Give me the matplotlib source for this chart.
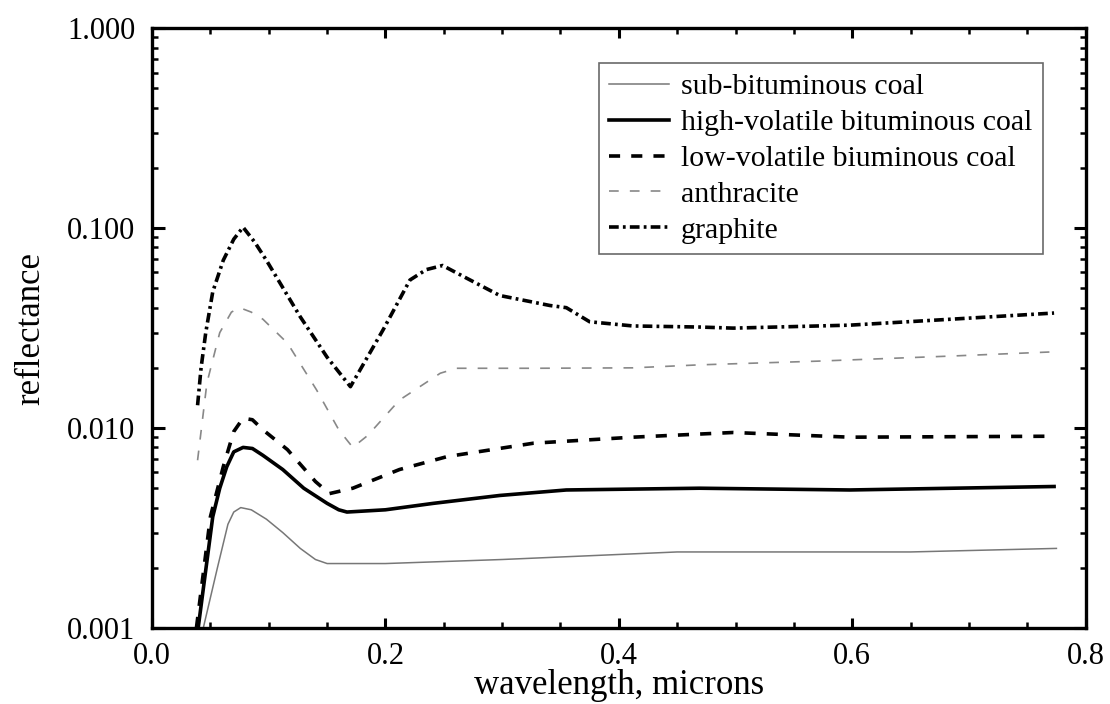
import matplotlib
matplotlib.use("Agg")
import matplotlib.pyplot as plt
from matplotlib.ticker import MultipleLocator, FixedLocator, LogLocator, NullFormatter

plt.rcParams['font.family'] = 'Liberation Serif'
plt.rcParams['lines.scale_dashes'] = False

# data (wavelength in microns, reflectance)
sub_x = [0.043, 0.056, 0.065, 0.070, 0.076, 0.085, 0.098, 0.112, 0.127, 0.140, 0.150, 0.200, 0.300, 0.450, 0.650, 0.775]
sub_y = [0.00095, 0.002, 0.0033, 0.0038, 0.004, 0.0039, 0.0035, 0.003, 0.0025, 0.0022, 0.0021, 0.0021, 0.0022, 0.0024, 0.0024, 0.0025]

hv_x = [0.039, 0.052, 0.058, 0.064, 0.070, 0.078, 0.086, 0.095, 0.112, 0.130, 0.150, 0.160, 0.167, 0.200, 0.241, 0.298, 0.355, 0.469, 0.598, 0.773]
hv_y = [0.00095, 0.0036, 0.005, 0.0064, 0.0076, 0.008, 0.0079, 0.0073, 0.0062, 0.005, 0.0042, 0.0039, 0.0038, 0.0039, 0.0042, 0.0046, 0.0049, 0.005, 0.0049, 0.0051]

lv_x = [0.038, 0.050, 0.061, 0.070, 0.078, 0.086, 0.095, 0.116, 0.140, 0.152, 0.172, 0.212, 0.253, 0.327, 0.412, 0.498, 0.598, 0.773]
lv_y = [0.001, 0.0036, 0.0064, 0.0096, 0.0112, 0.011, 0.0098, 0.0078, 0.0054, 0.0047, 0.005, 0.0062, 0.0072, 0.0084, 0.009, 0.0095, 0.009, 0.0091]

anth_x = [0.039, 0.047, 0.058, 0.068, 0.075, 0.085, 0.095, 0.116, 0.141, 0.160, 0.172, 0.185, 0.212, 0.247, 0.261, 0.327, 0.412, 0.469, 0.57, 0.684, 0.769]
anth_y = [0.0069, 0.0168, 0.030, 0.038, 0.040, 0.038, 0.035, 0.0266, 0.0155, 0.0098, 0.008, 0.0092, 0.0138, 0.0188, 0.0199, 0.0199, 0.020, 0.0207, 0.0216, 0.0229, 0.024]

gr_x = [0.039, 0.042, 0.046, 0.052, 0.061, 0.070, 0.078, 0.088, 0.098, 0.127, 0.150, 0.170, 0.198, 0.221, 0.235, 0.249,
        0.270, 0.298, 0.341, 0.355, 0.375, 0.412, 0.469, 0.498, 0.598, 0.684, 0.773]
gr_y = [0.013, 0.02, 0.03, 0.048, 0.069, 0.088, 0.101, 0.085, 0.069, 0.036, 0.0226, 0.0161, 0.031, 0.055, 0.062, 0.065,
        0.056, 0.046, 0.041, 0.040, 0.034, 0.0324, 0.032, 0.0316, 0.0327, 0.035, 0.0376]

ytick_vals = [0.001, 0.01, 0.1, 1.0]
ytick_labels = ['0.001', '0.010', '0.100', '1.000']
xtick_vals = [0.0, 0.2, 0.4, 0.6, 0.8]
xtick_labels = ['0.0', '0.2', '0.4', '0.6', '0.8']

fig = plt.figure(figsize=(11.1, 7.04), dpi=100)
ax = fig.add_axes([0.137, 0.108, 0.841, 0.852])

ax.plot(sub_x, sub_y, color='#777777', lw=1.1, label='sub-bituminous coal')
ax.plot(hv_x, hv_y, color='black', lw=2.6, label='high-volatile bituminous coal')
ax.plot(lv_x, lv_y, color='black', lw=2.6, linestyle=(0, (8, 8)), label='low-volatile biuminous coal')
ax.plot(anth_x, anth_y, color='#888888', lw=1.2, linestyle=(0, (7, 8)), label='anthracite')
ax.plot(gr_x, gr_y, color='black', lw=2.6, linestyle=(0, (7, 3, 2, 3)), label='graphite')

ax.set_yscale('log')
ax.set_xlim(0.0, 0.8)
ax.set_ylim(0.001, 1.0)
ax.yaxis.set_major_locator(FixedLocator(ytick_vals))
ax.set_yticklabels(ytick_labels)
ax.yaxis.set_minor_locator(LogLocator(base=10, subs=range(2, 10)))
ax.yaxis.set_minor_formatter(NullFormatter())
ax.set_xticks(xtick_vals)
ax.set_xticklabels(xtick_labels)
ax.xaxis.set_minor_locator(MultipleLocator(0.05))

ax.tick_params(which='both', direction='in', top=True, right=True, labelsize=22)
ax.tick_params(axis='y', which='major', length=9, width=2.2, pad=12)
ax.tick_params(axis='y', which='minor', length=4.5, width=1.8)
ax.tick_params(axis='x', which='major', length=7.5, width=2.2, pad=10)
ax.tick_params(axis='x', which='minor', length=4, width=1.8)
for s in ax.spines.values():
    s.set_linewidth(2.4)

ax.set_xlabel('wavelength, microns', fontsize=25)
ax.xaxis.set_label_coords(0.5, -0.068)
ax.set_ylabel('reflectance', fontsize=25, labelpad=14)

leg = ax.legend(loc='upper right', bbox_to_anchor=(0.954, 0.942), borderaxespad=0,
                fontsize=21.5, frameon=True, fancybox=False, handlelength=2.0,
                handletextpad=0.4, labelspacing=0.3, borderpad=0.35)
leg.get_frame().set_edgecolor('#444444')
leg.get_frame().set_linewidth(1.2)

fig.savefig('out.png', dpi=100)
